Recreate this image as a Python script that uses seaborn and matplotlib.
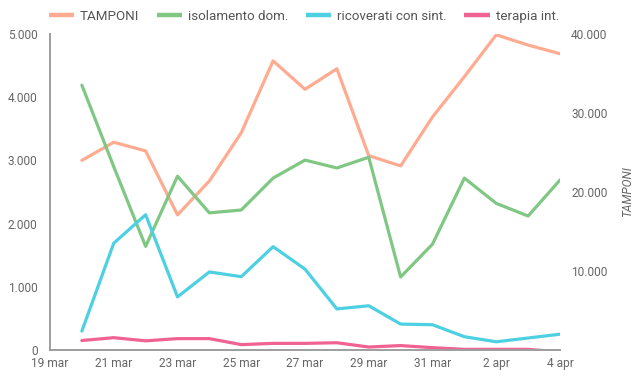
import pandas as pd
import matplotlib
matplotlib.use("Agg")
import matplotlib.pyplot as plt
from matplotlib.lines import Line2D
from matplotlib.ticker import FuncFormatter
import seaborn as sns

# Data
dates = pd.date_range("2020-03-20", "2020-04-04", freq="D")
tamponi = [24000, 26300, 25200, 17100, 21400, 27500, 36600, 33000,
           35600, 24600, 23300, 29500, 34600, 39900, 38600, 37500]
isolamento = [4190, 2900, 1640, 2750, 2170, 2215, 2720, 3005,
              2880, 3050, 1155, 1675, 2720, 2320, 2120, 2690]
ricoverati = [300, 1690, 2140, 840, 1235, 1160, 1635, 1280,
              650, 700, 410, 400, 210, 130, 190, 250]
terapia = [150, 195, 145, 180, 180, 85, 105, 105,
           115, 47, 70, 37, 10, 10, 10, -30]

tick_dates = pd.date_range("2020-03-19", "2020-04-04", freq="2D")
tick_labels = ["19 mar", "21 mar", "23 mar", "25 mar", "27 mar", "29 mar",
               "31 mar", "2 apr", "4 apr"]
left_ticks = [0, 1000, 2000, 3000, 4000, 5000]
right_ticks = [10000, 20000, 30000, 40000]

colors = {
    "TAMPONI": "#FFAB91",
    "isolamento dom.": "#81C784",
    "ricoverati con sint.": "#4DD0E1",
    "terapia int.": "#F06292",
}

sns.set_style("white")
plt.rcParams["font.family"] = ["Roboto", "DejaVu Sans"]


def it_fmt(v, pos):
    # Italian thousands separator
    return f"{int(v):,}".replace(",", ".")


fig = plt.figure(figsize=(6.37, 3.80), dpi=100)
ax = fig.add_axes([50 / 637, 30 / 380, 510 / 637, 316 / 380])
ax2 = ax.twinx()

lw = 2.3
sns.lineplot(x=dates, y=isolamento, ax=ax, color=colors["isolamento dom."], linewidth=lw)
sns.lineplot(x=dates, y=ricoverati, ax=ax, color=colors["ricoverati con sint."], linewidth=lw)
sns.lineplot(x=dates, y=terapia, ax=ax, color=colors["terapia int."], linewidth=lw)
sns.lineplot(x=dates, y=tamponi, ax=ax2, color=colors["TAMPONI"], linewidth=lw)

ax.set_ylim(0, 5000)
ax2.set_ylim(0, 40000)
ax.set_xlim(pd.Timestamp("2020-03-19"), pd.Timestamp("2020-04-04"))

ax.set_yticks(left_ticks)
ax2.set_yticks(right_ticks)
ax.yaxis.set_major_formatter(FuncFormatter(it_fmt))
ax2.yaxis.set_major_formatter(FuncFormatter(it_fmt))
ax.set_xticks(tick_dates)
ax.set_xticklabels(tick_labels)

# bring the left-axis lines above the right axis line
ax.set_zorder(ax2.get_zorder() + 1)
ax.patch.set_visible(False)

for a in (ax, ax2):
    a.tick_params(length=0, labelsize=8.6, labelcolor="#666666")
    for s in a.spines.values():
        s.set_visible(False)
for side in ("left", "bottom"):
    ax.spines[side].set_visible(True)
    ax.spines[side].set_color("#9E9E9E")
    ax.spines[side].set_linewidth(1.4)
ax.tick_params(axis="y", pad=9)
ax.tick_params(axis="x", pad=5)
ax2.tick_params(axis="y", pad=8)

ax2.set_ylabel("TAMPONI", fontstyle="italic", fontsize=8.6, color="#666666", labelpad=10)
ax.set_xlabel("")
ax.set_ylabel("")

handles = [Line2D([0], [0], color=c, linewidth=3.2, solid_capstyle="butt")
           for c in colors.values()]
fig.legend(handles, list(colors.keys()), loc="upper center", ncol=4,
           bbox_to_anchor=(0.477, 1.005), frameon=False, fontsize=9.6,
           handlelength=1.9, handletextpad=0.45, columnspacing=1.3,
           labelcolor="#555555")

fig.savefig("out.png", dpi=100)
